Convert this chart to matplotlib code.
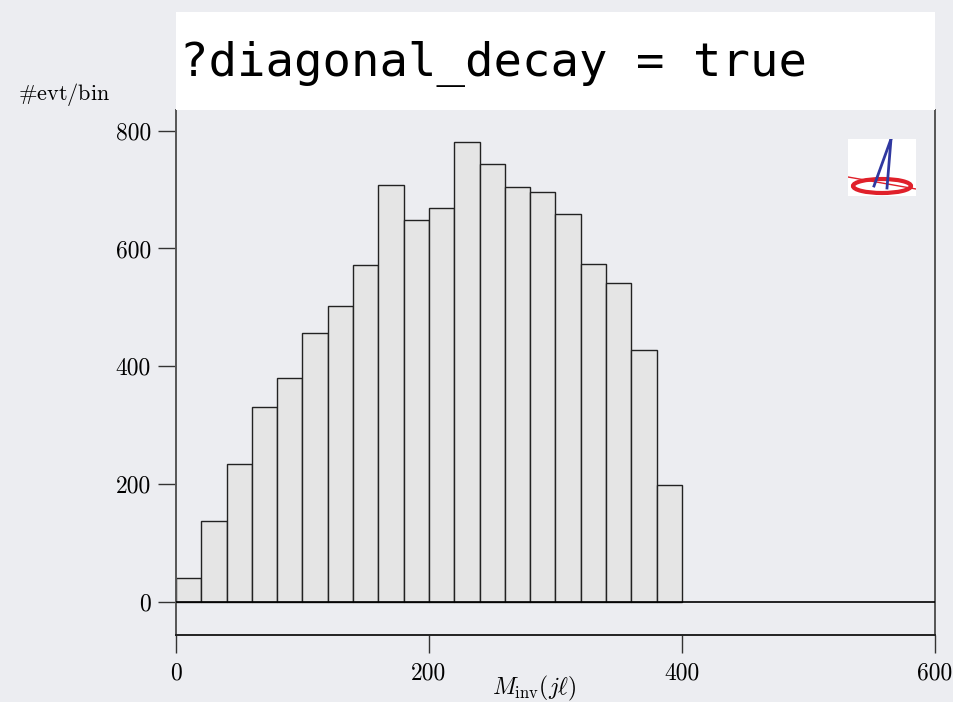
import matplotlib
matplotlib.use("Agg")
import matplotlib.pyplot as plt
from matplotlib.patches import Ellipse, Rectangle

# histogram of M_inv(j l), 20 GeV bins
bin_edges = [0, 20, 40, 60, 80, 100, 120, 140, 160, 180, 200,
             220, 240, 260, 280, 300, 320, 340, 360, 380, 400]
counts = [41, 138, 235, 331, 381, 456, 503, 572, 707, 648,
          669, 780, 743, 705, 695, 659, 573, 542, 428, 198]
x_ticks = [0, 200, 400, 600]
y_ticks = [0, 200, 400, 600, 800]
title_text = "?diagonal_decay = true"

BG = "#ecedf1"

plt.rcParams.update({
    "font.family": "serif",
    "font.serif": ["cmr10"],
    "mathtext.fontset": "cm",
    "axes.formatter.use_mathtext": True,
})

fig = plt.figure(figsize=(9.54, 7.02), dpi=100, facecolor=BG)
W, H = 954.0, 702.0

ax = fig.add_axes([176 / W, 1 - 635 / H, (935 - 176) / W, (635 - 110) / H])
ax.set_facecolor("none")

ax.bar(bin_edges[:-1], counts, width=20, align="edge",
       facecolor="#e5e5e5", edgecolor="#222222", linewidth=1.0, zorder=2)
ax.axhline(0, color="black", linewidth=1.2, zorder=3)

ax.set_xlim(0, 600)
ax.set_ylim(-56, 835)
ax.set_xticks(x_ticks)
ax.set_xticklabels([str(v) for v in x_ticks])
ax.set_yticks(y_ticks)
ax.set_yticklabels([str(v) for v in y_ticks])
ax.tick_params(direction="out", length=13, width=1.0, color="#333333",
               labelsize=17)
ax.tick_params(axis="x", pad=7)
ax.tick_params(axis="y", pad=5)

for side in ("left", "right", "bottom"):
    ax.spines[side].set_color("#555555")
    ax.spines[side].set_linewidth(1.4)
ax.spines["bottom"].set_color("#222222")
ax.spines["top"].set_visible(False)

ax.set_xlabel(r"$M_{\rm inv}(j\ell)$", fontsize=17)
ax.xaxis.set_label_coords((534 - 176) / 759, (635 - 688) / 525)
ax.xaxis.label.set_va("center")

fig.text(18 / W, 1 - 94 / H, r"$\#\mathrm{evt/bin}$", fontsize=16,
         ha="left", va="center")

# title box
fig.patches.append(Rectangle((176 / W, 1 - 110 / H), (935 - 176) / W, 98 / H,
                             transform=fig.transFigure, facecolor="white",
                             edgecolor="none", zorder=5))
fig.text(180 / W, 1 - 64 / H, title_text, family="DejaVu Sans Mono",
         fontsize=34, ha="left", va="center", zorder=6)

# small logo top right
lg = fig.add_axes([848 / W, 1 - 196 / H, 68 / W, 57 / H])
lg.set_xlim(0, 68)
lg.set_ylim(0, 57)
lg.set_facecolor("white")
for s in lg.spines.values():
    s.set_visible(False)
lg.set_xticks([])
lg.set_yticks([])
lg.add_patch(Ellipse((34, 10), 58, 14, fill=False, edgecolor="#e0202a",
                     linewidth=3.0))
lg.plot([0, 68], [19, 7], color="#e0202a", linewidth=1.0)
lg.plot([26, 43], [10, 57], color="#3038a0", linewidth=2.0)
lg.plot([39, 43], [8, 57], color="#3038a0", linewidth=2.0)

fig.savefig("out.png", dpi=100, facecolor=BG)
